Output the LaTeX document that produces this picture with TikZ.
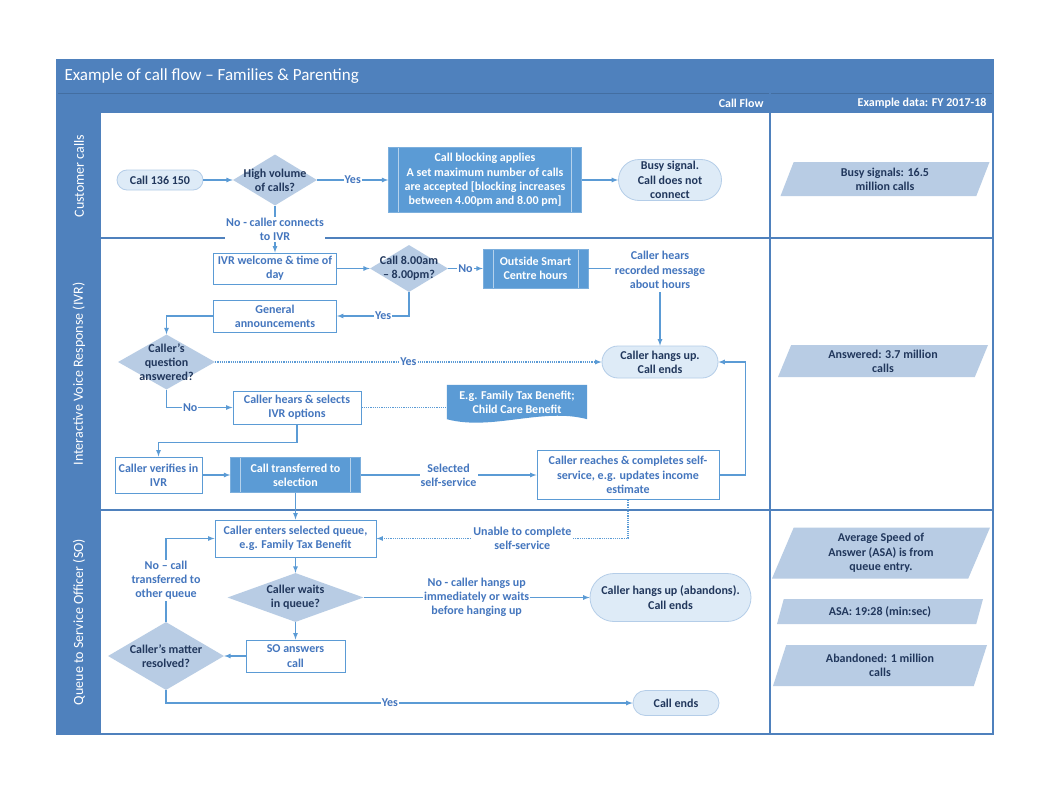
\documentclass[tikz,border=0pt]{standalone}
\usepackage{fontspec}
\setmainfont{Carlito}
\definecolor{laneblue}{RGB}{79,129,189}
\definecolor{boxblue}{RGB}{91,155,213}
\definecolor{diafill}{RGB}{184,204,228}
\definecolor{termfill}{RGB}{222,235,247}
\definecolor{termline}{RGB}{180,205,232}
\definecolor{textblue}{RGB}{68,118,190}
\definecolor{darktext}{RGB}{33,55,92}
\usepackage{tikz}
\usetikzlibrary{shapes.geometric, shapes.misc, arrows, calc, backgrounds}

\begin{document}
\begin{tikzpicture}[x=1pt, y=-1pt, >=latex,
    every node/.style={font=\fontsize{12}{14.3}\selectfont\bfseries, align=center},
    procbox/.style={draw=boxblue, line width=1pt, fill=white, text=textblue, inner sep=1pt},
    prebox/.style={draw=boxblue!80!white, fill=boxblue, text=white, inner sep=1pt,
        path picture={\draw[boxblue!45!white, line width=0.8pt]
            ([xshift=10pt]path picture bounding box.north west) -- ([xshift=10pt]path picture bounding box.south west)
            ([xshift=-10pt]path picture bounding box.north east) -- ([xshift=-10pt]path picture bounding box.south east);}},
    decision/.style={diamond, fill=diafill, inner sep=0pt},
    terminal/.style={rounded rectangle, draw=termline, line width=0.8pt, fill=termfill, text=darktext, inner sep=0pt},
    datashape/.style={trapezium, trapezium left angle=62, trapezium right angle=118, trapezium stretches body,
        fill=diafill, text=darktext, inner sep=1pt},
    flow/.style={->, draw=boxblue, line width=1.2pt},
    link/.style={draw=boxblue, line width=1.2pt},
    lbl/.style={text=textblue, fill=white, inner sep=1pt}]
    \useasboundingbox (0,0) rectangle (1050,800);
    \begin{scope}[on background layer]
        \fill[white] (0,0) rectangle (1050,800);
    \end{scope}

    % Frame and lanes
    \fill[laneblue] (57,60) rectangle (993,113);
    \draw[laneblue!85!black, line width=0.6pt] (57,93) -- (993,93);
    \fill[laneblue] (57,113) rectangle (101,734);
    \draw[laneblue, line width=1.2pt] (57,60) rectangle (993,734);
    \draw[laneblue, line width=1.2pt] (57,238) -- (993,238) (57,510) -- (993,510) (770,93) -- (770,734);
    \node[anchor=west, text=white, font=\fontsize{17}{20}\selectfont] (title) at (61,76) {Example of call flow – Families \& Parenting};
    \node[anchor=east, text=white] (flowhead) at (767,103) {Call Flow};
    \node[anchor=east, text=white] (datahead) at (990,103) {Example data: FY 2017-18};
    \node[rotate=90, text=white, font=\fontsize{14}{17}\selectfont] (lanecust) at (79,176) {Customer calls};
    \node[rotate=90, text=white, font=\fontsize{14}{17}\selectfont] (laneivr) at (79,374) {Interactive Voice Response (IVR)};
    \node[rotate=90, text=white, font=\fontsize{14}{17}\selectfont] (laneso) at (79,622) {Queue to Service Officer (SO)};

    % Customer calls
    \node[terminal, minimum width=86, minimum height=20] (call) at (160,180) {Call 136 150};
    \node[decision, minimum width=84, minimum height=51, label={[text=darktext]center:High volume\\of calls?}] (highvol) at (275,180) {};
    \node[prebox, minimum width=193, minimum height=65] (blocking) at (485,180) {Call blocking applies\\A set maximum number of calls\\are accepted [blocking increases\\between 4.00pm and 8.00 pm]};
    \node[terminal, minimum width=103, minimum height=41] (busy) at (670,180) {Busy signal.\\Call does not\\connect};

    % Interactive voice response
    \node[procbox, minimum width=123, minimum height=31] (ivrw) at (275,268.5) {IVR welcome \& time of\\day};
    \node[decision, minimum width=78, minimum height=47, label={[text=darktext]center:Call 8.00am\\– 8.00pm?}] (daytime) at (409,268.5) {};
    \node[prebox, minimum width=105, minimum height=39] (outside) at (535.5,268.5) {Outside Smart\\Centre hours};
    \node[text=textblue] (hears) at (660,270) {Caller hears\\recorded message\\about hours};
    \node[terminal, minimum width=116, minimum height=32] (hangup) at (660,362) {Caller hangs up.\\Call ends};
    \node[procbox, minimum width=123, minimum height=32] (announce) at (275,316) {General\\announcements};
    \node[decision, minimum width=97, minimum height=55, label={[text=darktext]center:Caller’s\\question\\answered?}] (answered) at (166.5,362) {};
    \node[procbox, minimum width=128, minimum height=33] (options) at (297,407.5) {Caller hears \& selects\\IVR options};
    \node[text=white, minimum width=140, minimum height=34] (example) at (517,402) {E.g. Family Tax Benefit;\\Child Care Benefit};
    \node[procbox, minimum width=87, minimum height=36] (verify) at (158.5,475) {Caller verifies in\\IVR};
    \node[prebox, minimum width=130, minimum height=35] (transfer) at (295.5,475) {Call transferred to\\selection};
    \node[procbox, minimum width=182, minimum height=49] (selfserve) at (628,475) {Caller reaches \& completes self-\\service, e.g. updates income\\estimate};
    \begin{scope}[on background layer]
        \fill[boxblue] (example.north west) -- (example.north east) -- (example.south east)
            .. controls +(-45,-12) and +(45,12) .. (example.south west) -- cycle;
    \end{scope}

    % Queue to service officer
    \node[procbox, minimum width=161, minimum height=37] (enterq) at (295.5,538.5) {Caller enters selected queue,\\e.g. Family Tax Benefit};
    \node[decision, minimum width=136, minimum height=49, label={[text=darktext]center:Caller waits\\in queue?}] (waits) at (295.5,597.5) {};
    \node[terminal, minimum width=161, minimum height=48] (abandon) at (670.5,597.5) {Caller hangs up (abandons).\\Call ends};
    \node[procbox, minimum width=99, minimum height=32] (soanswer) at (295.5,656) {SO answers\\call};
    \node[decision, minimum width=116, minimum height=68, label={[text=darktext]center:Caller’s matter\\resolved?}] (resolved) at (166,656) {};
    \node[terminal, minimum width=86, minimum height=25] (callend) at (676,703) {Call ends};

    % Example data
    \node[datashape, minimum width=209, minimum height=34] (busydata) at (885,179) {Busy signals: 16.5\\million calls};
    \node[datashape, minimum width=210, minimum height=32] (answerdata) at (883,361) {Answered: 3.7 million\\calls};
    \node[datashape, minimum width=218, minimum height=51] (asainfo) at (881,553) {Average Speed of\\Answer (ASA) is from\\queue entry.};
    \node[datashape, minimum width=206, minimum height=25] (asadata) at (880,611.5) {ASA: 19:28 (min:sec)};
    \node[datashape, minimum width=214, minimum height=41] (abandata) at (880,665.5) {Abandoned: 1 million\\calls};

    % Connectors
    \draw[flow] (call.east) -- (highvol.west);
    \draw[flow] (highvol.east) -- node[lbl]{Yes} (blocking.west);
    \draw[flow] (blocking.east) -- (busy.west);
    \draw[flow] (highvol.south) -- node[lbl]{No - caller connects\\to IVR} (ivrw.north);
    \draw[flow] (ivrw.east) -- (daytime.west);
    \draw[flow] (daytime.east) -- node[lbl]{No} (outside.west);
    \draw[link] (outside.east) -- (outside.east -| hears.west);
    \draw[flow] (hears.south) -- (hangup.north);
    \draw[flow] (daytime.south) |- node[lbl, pos=0.68]{Yes} (announce.east);
    \draw[flow] (announce.west) -| (answered.north);
    \draw[flow, densely dotted] (answered.east) -- node[lbl]{Yes} (hangup.west);
    \draw[flow] (answered.south) |- node[lbl, pos=0.68]{No} (options.west);
    \draw[link, densely dotted] (options.east) -- (options.east -| example.west);
    \draw[flow] (options.south) -- ++(0,18) -| (verify.north);
    \draw[flow] (verify.east) -- (transfer.west);
    \draw[flow] (transfer.east) -- node[lbl]{Selected\\self-service} (selfserve.west);
    \draw[flow] (selfserve.east) -- ++(26,0) |- (hangup.east);
    \draw[flow] (transfer.south) -- (enterq.north);
    \draw[flow, densely dotted] (selfserve.south) |- node[lbl, pos=0.71]{Unable to complete\\self-service} (enterq.east);
    \draw[flow] (enterq.south) -- (waits.north);
    \draw[flow] (waits.east) -- node[lbl]{No - caller hangs up\\immediately or waits\\before hanging up} (abandon.west);
    \draw[flow] (waits.south) -- (soanswer.north);
    \draw[flow] (soanswer.west) -- (resolved.east);
    \draw[flow] (resolved.north) |- node[lbl, pos=0.25]{No – call\\transferred to\\other queue} (enterq.west);
    \draw[flow] (resolved.south) |- node[lbl, pos=0.74]{Yes} (callend.west);
\end{tikzpicture}
\end{document}
